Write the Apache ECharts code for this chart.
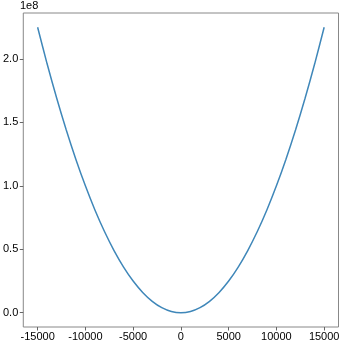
<!DOCTYPE html>
<html><head><meta charset="utf-8">
<script src="https://cdn.jsdelivr.net/npm/echarts@6/dist/echarts.min.js"></script>
<style>html,body{margin:0;padding:0;background:#fff}#c{width:344px;height:343px}</style>
</head><body><div id="c"></div>
<script>
const xValues = [-15000,-14000,-13000,-12000,-11000,-10000,-9000,-8000,-7000,-6000,-5000,-4000,-3000,-2000,-1000,0,1000,2000,3000,4000,5000,6000,7000,8000,9000,10000,11000,12000,13000,14000,15000];
const yValues = [2.25e8,1.96e8,1.69e8,1.44e8,1.21e8,1.0e8,0.81e8,0.64e8,0.49e8,0.36e8,0.25e8,0.16e8,0.09e8,0.04e8,0.01e8,0,0.01e8,0.04e8,0.09e8,0.16e8,0.25e8,0.36e8,0.49e8,0.64e8,0.81e8,1.0e8,1.21e8,1.44e8,1.69e8,1.96e8,2.25e8];
const xTicks = [-15000,-10000,-5000,0,5000,10000,15000];
const yTicks = [0,0.5e8,1.0e8,1.5e8,2.0e8];
const data = xValues.map((x,i)=>[x,yValues[i]]);
const font = 'Liberation Sans, Arial, sans-serif';
const chart = echarts.init(document.getElementById('c'), null, {renderer:'canvas'});
chart.setOption({
  animation:false,
  grid:{left:22.5,top:13,right:5.5,bottom:16,show:true,borderColor:'#888',borderWidth:1,backgroundColor:'transparent'},
  xAxis:{type:'value',min:-16500,max:16500,
    axisLine:{show:false,onZero:false},splitLine:{show:false},
    axisTick:{show:true,customValues:xTicks,length:3.5,lineStyle:{color:'#666'}},
    axisLabel:{customValues:xTicks,color:'#000',fontFamily:font,fontSize:11,margin:4,formatter:v=>String(v)}},
  yAxis:{type:'value',min:-0.1125e8,max:2.3625e8,
    axisLine:{show:false,onZero:false},splitLine:{show:false},
    axisTick:{show:true,customValues:yTicks,length:3.5,lineStyle:{color:'#666'}},
    axisLabel:{customValues:yTicks,color:'#000',fontFamily:font,fontSize:11,margin:5,formatter:v=>(v/1e8).toFixed(1)}},
  graphic:[{type:'text',left:20,top:0,style:{text:'1e8',fill:'#000',font:'11px '+font}}],
  series:[{type:'line',data:data,showSymbol:false,smooth:0.2,lineStyle:{color:'#3f87b9',width:1.5}}]
});
</script></body></html>
